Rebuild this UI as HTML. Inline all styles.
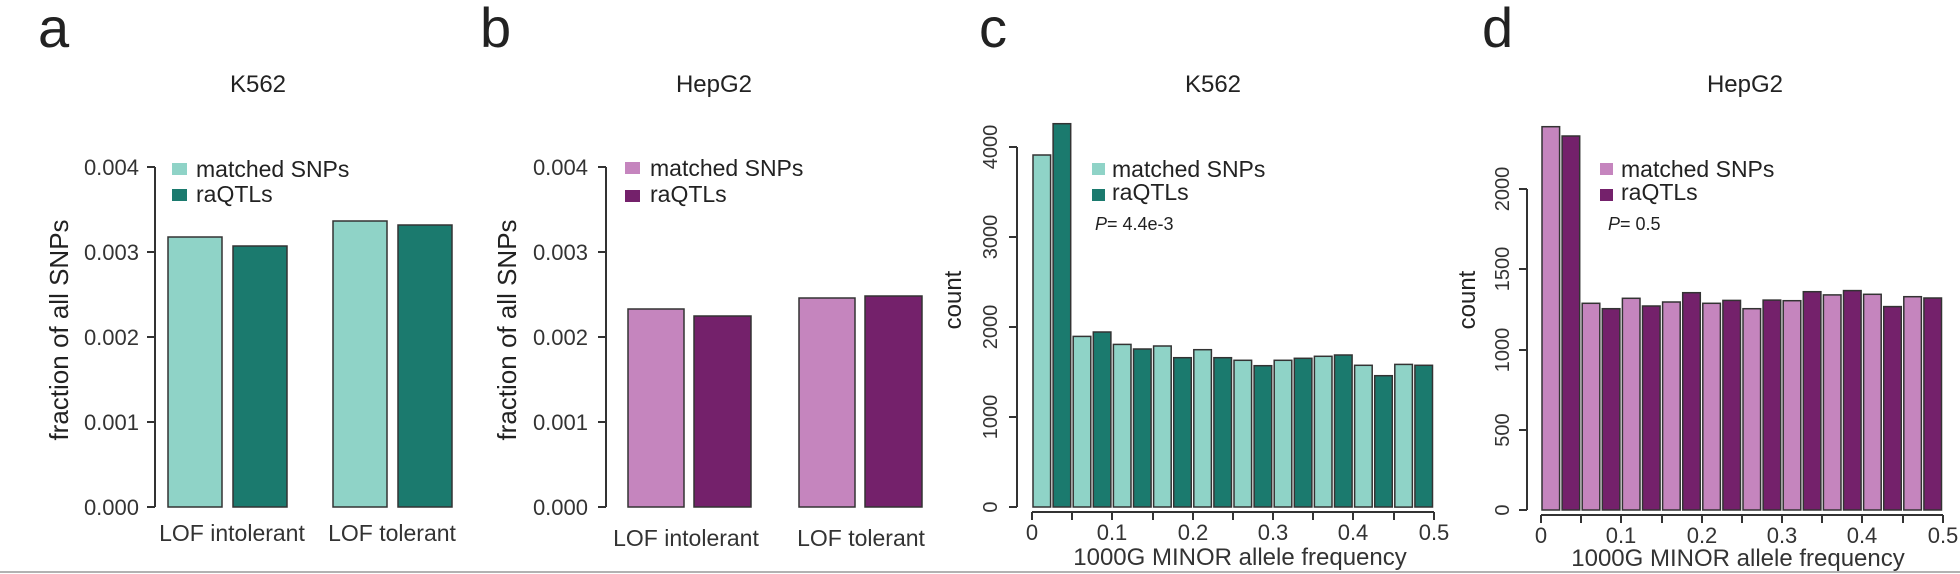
<!DOCTYPE html>
<html><head><meta charset="utf-8"><style>
html,body{margin:0;padding:0;background:#fff;}
svg{display:block;font-family:"Liberation Sans",Arial,sans-serif;}
</style></head><body>
<svg width="1960" height="574" viewBox="0 0 1960 574" xmlns="http://www.w3.org/2000/svg">
<g fill="#222">
<text x="38" y="47" font-size="56">a</text>
<text x="480" y="47" font-size="56">b</text>
<text x="979" y="47" font-size="56">c</text>
<text x="1482" y="47" font-size="56">d</text>
</g>

<!-- Panel a -->
<text x="258" y="92" font-size="24" text-anchor="middle" fill="#222">K562</text>
<g stroke="#333" stroke-width="2" fill="none">
<line x1="155" y1="167" x2="155" y2="507"/>
<line x1="147" y1="167" x2="155" y2="167"/><line x1="147" y1="252" x2="155" y2="252"/><line x1="147" y1="337" x2="155" y2="337"/><line x1="147" y1="422" x2="155" y2="422"/><line x1="147" y1="507" x2="155" y2="507"/>
</g>
<g font-size="22" text-anchor="end" fill="#333">
<text x="139" y="175">0.004</text><text x="139" y="260">0.003</text><text x="139" y="345">0.002</text><text x="139" y="430">0.001</text><text x="139" y="515">0.000</text>
</g>
<text transform="translate(68,330) rotate(-90)" font-size="26" text-anchor="middle" fill="#222">fraction of all SNPs</text>
<g stroke="#333" stroke-width="1.5">
<rect x="168" y="237" width="54" height="270" fill="#8fd3c7"/>
<rect x="233" y="246" width="54" height="261" fill="#1b7a6e"/>
<rect x="333" y="221" width="54" height="286" fill="#8fd3c7"/>
<rect x="398" y="225" width="54" height="282" fill="#1b7a6e"/>
</g>
<rect x="172" y="163" width="15" height="12" fill="#8fd3c7"/>
<rect x="172" y="189" width="15" height="12" fill="#1b7a6e"/>
<text x="196" y="177" font-size="23" fill="#222">matched SNPs</text>
<text x="196" y="202" font-size="23" fill="#222">raQTLs</text>
<text x="232" y="541" font-size="23" text-anchor="middle" fill="#333">LOF intolerant</text>
<text x="392" y="541" font-size="23" text-anchor="middle" fill="#333">LOF tolerant</text>

<!-- Panel b -->
<text x="714" y="92" font-size="24" text-anchor="middle" fill="#222">HepG2</text>
<g stroke="#333" stroke-width="2" fill="none">
<line x1="606" y1="167" x2="606" y2="507"/>
<line x1="598" y1="167" x2="606" y2="167"/><line x1="598" y1="252" x2="606" y2="252"/><line x1="598" y1="337" x2="606" y2="337"/><line x1="598" y1="422" x2="606" y2="422"/><line x1="598" y1="507" x2="606" y2="507"/>
</g>
<g font-size="22" text-anchor="end" fill="#333">
<text x="588" y="175">0.004</text><text x="588" y="260">0.003</text><text x="588" y="345">0.002</text><text x="588" y="430">0.001</text><text x="588" y="515">0.000</text>
</g>
<text transform="translate(516,330) rotate(-90)" font-size="26" text-anchor="middle" fill="#222">fraction of all SNPs</text>
<g stroke="#333" stroke-width="1.5">
<rect x="628" y="309" width="56" height="198" fill="#c585be"/>
<rect x="694" y="316" width="57" height="191" fill="#74216b"/>
<rect x="799" y="298" width="56" height="209" fill="#c585be"/>
<rect x="865" y="296" width="57" height="211" fill="#74216b"/>
</g>
<rect x="625" y="162" width="15" height="12" fill="#c585be"/>
<rect x="625" y="190" width="15" height="12" fill="#74216b"/>
<text x="650" y="176" font-size="23" fill="#222">matched SNPs</text>
<text x="650" y="202" font-size="23" fill="#222">raQTLs</text>
<text x="686" y="546" font-size="23" text-anchor="middle" fill="#333">LOF intolerant</text>
<text x="861" y="546" font-size="23" text-anchor="middle" fill="#333">LOF tolerant</text>

<!-- Panel c -->
<text x="1213" y="92" font-size="24" text-anchor="middle" fill="#222">K562</text>
<g stroke="#333" stroke-width="2" fill="none">
<line x1="1017" y1="147" x2="1017" y2="507"/>
<line x1="1009" y1="147" x2="1017" y2="147"/><line x1="1009" y1="237" x2="1017" y2="237"/><line x1="1009" y1="327" x2="1017" y2="327"/><line x1="1009" y1="417" x2="1017" y2="417"/><line x1="1009" y1="507" x2="1017" y2="507"/>
<line x1="1032" y1="512" x2="1434" y2="512"/>
<line x1="1032" y1="512" x2="1032" y2="520"/><line x1="1072" y1="512" x2="1072" y2="520"/><line x1="1112" y1="512" x2="1112" y2="520"/><line x1="1153" y1="512" x2="1153" y2="520"/><line x1="1193" y1="512" x2="1193" y2="520"/><line x1="1233" y1="512" x2="1233" y2="520"/><line x1="1273" y1="512" x2="1273" y2="520"/><line x1="1313" y1="512" x2="1313" y2="520"/><line x1="1353" y1="512" x2="1353" y2="520"/><line x1="1394" y1="512" x2="1394" y2="520"/><line x1="1434" y1="512" x2="1434" y2="520"/>
</g>
<g font-size="20" text-anchor="middle" fill="#333">
<text transform="translate(997,147) rotate(-90)">4000</text>
<text transform="translate(997,237) rotate(-90)">3000</text>
<text transform="translate(997,327) rotate(-90)">2000</text>
<text transform="translate(997,417) rotate(-90)">1000</text>
<text transform="translate(997,507) rotate(-90)">0</text>
</g>
<g font-size="22" text-anchor="middle" fill="#333">
<text x="1032" y="540">0</text><text x="1112" y="540">0.1</text><text x="1193" y="540">0.2</text><text x="1273" y="540">0.3</text><text x="1353" y="540">0.4</text><text x="1434" y="540">0.5</text>
</g>
<text x="1240" y="565" font-size="24" text-anchor="middle" fill="#333">1000G MINOR allele frequency</text>
<text transform="translate(961,300) rotate(-90)" font-size="24" text-anchor="middle" fill="#222">count</text>
<g id="cbars" stroke="#333" stroke-width="1.5"></g>
<rect x="1092" y="163" width="13" height="12" fill="#8fd3c7"/>
<rect x="1092" y="189" width="13" height="12" fill="#1b7a6e"/>
<text x="1112" y="177" font-size="23" fill="#222">matched SNPs</text>
<text x="1112" y="200" font-size="23" fill="#222">raQTLs</text>
<text x="1095" y="230" font-size="18" fill="#222"><tspan font-style="italic">P</tspan>= 4.4e-3</text>

<!-- Panel d -->
<text x="1745" y="92" font-size="24" text-anchor="middle" fill="#222">HepG2</text>
<g stroke="#333" stroke-width="2" fill="none">
<line x1="1527" y1="189" x2="1527" y2="510"/>
<line x1="1519" y1="189" x2="1527" y2="189"/><line x1="1519" y1="269" x2="1527" y2="269"/><line x1="1519" y1="350" x2="1527" y2="350"/><line x1="1519" y1="430" x2="1527" y2="430"/><line x1="1519" y1="510" x2="1527" y2="510"/>
<line x1="1541" y1="515" x2="1943" y2="515"/>
<line x1="1541" y1="515" x2="1541" y2="523"/><line x1="1581" y1="515" x2="1581" y2="523"/><line x1="1621" y1="515" x2="1621" y2="523"/><line x1="1662" y1="515" x2="1662" y2="523"/><line x1="1702" y1="515" x2="1702" y2="523"/><line x1="1742" y1="515" x2="1742" y2="523"/><line x1="1782" y1="515" x2="1782" y2="523"/><line x1="1822" y1="515" x2="1822" y2="523"/><line x1="1862" y1="515" x2="1862" y2="523"/><line x1="1903" y1="515" x2="1903" y2="523"/><line x1="1943" y1="515" x2="1943" y2="523"/>
</g>
<g font-size="20" text-anchor="middle" fill="#333">
<text transform="translate(1509,189) rotate(-90)">2000</text>
<text transform="translate(1509,269) rotate(-90)">1500</text>
<text transform="translate(1509,350) rotate(-90)">1000</text>
<text transform="translate(1509,430) rotate(-90)">500</text>
<text transform="translate(1509,510) rotate(-90)">0</text>
</g>
<g font-size="22" text-anchor="middle" fill="#333">
<text x="1541" y="543">0</text><text x="1621" y="543">0.1</text><text x="1702" y="543">0.2</text><text x="1782" y="543">0.3</text><text x="1862" y="543">0.4</text><text x="1943" y="543">0.5</text>
</g>
<text x="1738" y="566" font-size="24" text-anchor="middle" fill="#333">1000G MINOR allele frequency</text>
<text transform="translate(1475,300) rotate(-90)" font-size="24" text-anchor="middle" fill="#222">count</text>
<g id="dbars" stroke="#333" stroke-width="1.5"></g>
<rect x="1600" y="163" width="13" height="12" fill="#c585be"/>
<rect x="1600" y="189" width="13" height="12" fill="#74216b"/>
<text x="1621" y="177" font-size="23" fill="#222">matched SNPs</text>
<text x="1621" y="200" font-size="23" fill="#222">raQTLs</text>
<text x="1608" y="230" font-size="18" fill="#222"><tspan font-style="italic">P</tspan>= 0.5</text>

<line x1="0" y1="572" x2="1960" y2="572" stroke="#999" stroke-width="1.5"/>
</svg>
<script>
(function(){
var ns="http://www.w3.org/2000/svg";
function draw(id,vals,x0,bw,base,scale,c1,c2){
var g=document.getElementById(id);
for(var i=0;i<vals.length;i++){
var r=document.createElementNS(ns,"rect");
var h=vals[i]*scale;
r.setAttribute("x",(x0+i*bw+1).toFixed(1));
r.setAttribute("y",(base-h).toFixed(1));
r.setAttribute("width",(bw-2.5).toFixed(1));
r.setAttribute("height",h.toFixed(1));
r.setAttribute("fill",i%2?c2:c1);
g.appendChild(r);}
}
draw("cbars",[3911,4259,1896,1944,1807,1756,1789,1659,1748,1659,1630,1570,1630,1652,1674,1689,1574,1459,1585,1574],1032,20.1,507,0.09,"#8fd3c7","#1b7a6e");
draw("dbars",[2388,2330,1288,1254,1319,1271,1296,1354,1288,1306,1254,1308,1304,1360,1340,1367,1344,1267,1329,1321],1541,20.1,510,0.1605,"#c585be","#74216b");
})();
</script>
</body></html>
